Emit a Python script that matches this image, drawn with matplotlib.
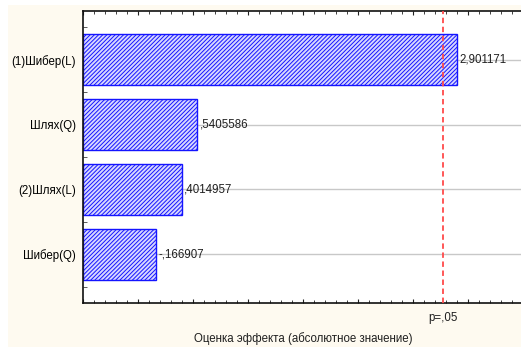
import numpy as np
import matplotlib
matplotlib.use("Agg")
import matplotlib.pyplot as plt
from matplotlib.patches import Rectangle
from matplotlib.ticker import MultipleLocator

# эффекты факторов (Парето-диаграмма)
factors = ["(1)Шибер(L)", "Шлях(Q)", "(2)Шлях(L)", "Шибер(Q)"]
effects = [2.901171, 0.5405586, 0.4014957, -0.166907]
p_crit = 2.776445   # t(0.975; df=4), p=,05
x_min, x_max = -0.5, 3.5

def stat_fmt(v):
    s = f"{v:.7g}".replace("0.", ".", 1) if abs(v) < 1 else f"{v:.7g}"
    return s.replace(".", ",")

plt.rcParams['font.family'] = ['Liberation Sans', 'DejaVu Sans']
plt.rcParams['hatch.color'] = '#3c3cff'
plt.rcParams['hatch.linewidth'] = 0.7

fs = 8.3

fig = plt.figure(figsize=(5.21, 3.47), dpi=100)
fig.patch.set_facecolor('white')
# кремовый фон окна
fig.patches.append(Rectangle((8 / 521, 0), 1, 1 - 5 / 347, transform=fig.transFigure,
                             facecolor='#fefaf0', edgecolor='none', zorder=-10))

ax = fig.add_axes([83 / 521, (347 - 303) / 347, (523 - 83) / 521, 292 / 347])
ax.set_facecolor('white')

y = np.arange(len(factors))
vals = np.abs(effects)

# линии сетки от конца столбца
for yi in y:
    ax.axhline(yi, color='#c8c8c8', lw=1, zorder=0)

ax.barh(y, vals - x_min, left=x_min, height=0.79, color='#d6d6ff',
        edgecolor='#1414ff', linewidth=1, hatch='////////', zorder=2)

for yi, v, e in zip(y, vals, effects):
    ax.text(v + 0.02, yi, stat_fmt(e), va='center', ha='left', fontsize=fs,
            color='#202020', zorder=3)

ax.axvline(p_crit, color='#ff4a4a', lw=1.3, ls=(0, (3, 2)), zorder=4)

ax.set_xlim(x_min, x_max)
ax.set_ylim(len(factors) - 0.25, -0.75)

ax.set_yticks(y)
ax.set_yticklabels(factors, fontsize=fs)
ax.tick_params(axis='y', length=0, pad=5)
ax.set_yticks(np.arange(-0.5, len(factors), 1), minor=True)
ax.tick_params(axis='y', which='minor', direction='in', length=3, width=0.6,
               color='#404040')

ax.xaxis.set_major_locator(MultipleLocator(0.5))
ax.xaxis.set_minor_locator(MultipleLocator(0.1))
ax.tick_params(axis='x', which='both', direction='in', top=True, bottom=True,
               labelbottom=False, color='#202020')
ax.tick_params(axis='x', which='major', length=3, width=0.8)
ax.tick_params(axis='x', which='minor', length=2, width=0.6)

ax.text(p_crit, -0.03, "p=,05", transform=ax.get_xaxis_transform(),
        ha='center', va='top', fontsize=fs, color='#202020')
ax.set_xlabel("Оценка эффекта (абсолютное значение)", fontsize=fs,
              color='#202020', labelpad=21)

for side in ['left', 'bottom', 'top']:
    ax.spines[side].set_linewidth(1.2)
    ax.spines[side].set_color('#101010')
ax.spines['right'].set_visible(False)

fig.savefig("out.png", dpi=100, facecolor=fig.get_facecolor())
